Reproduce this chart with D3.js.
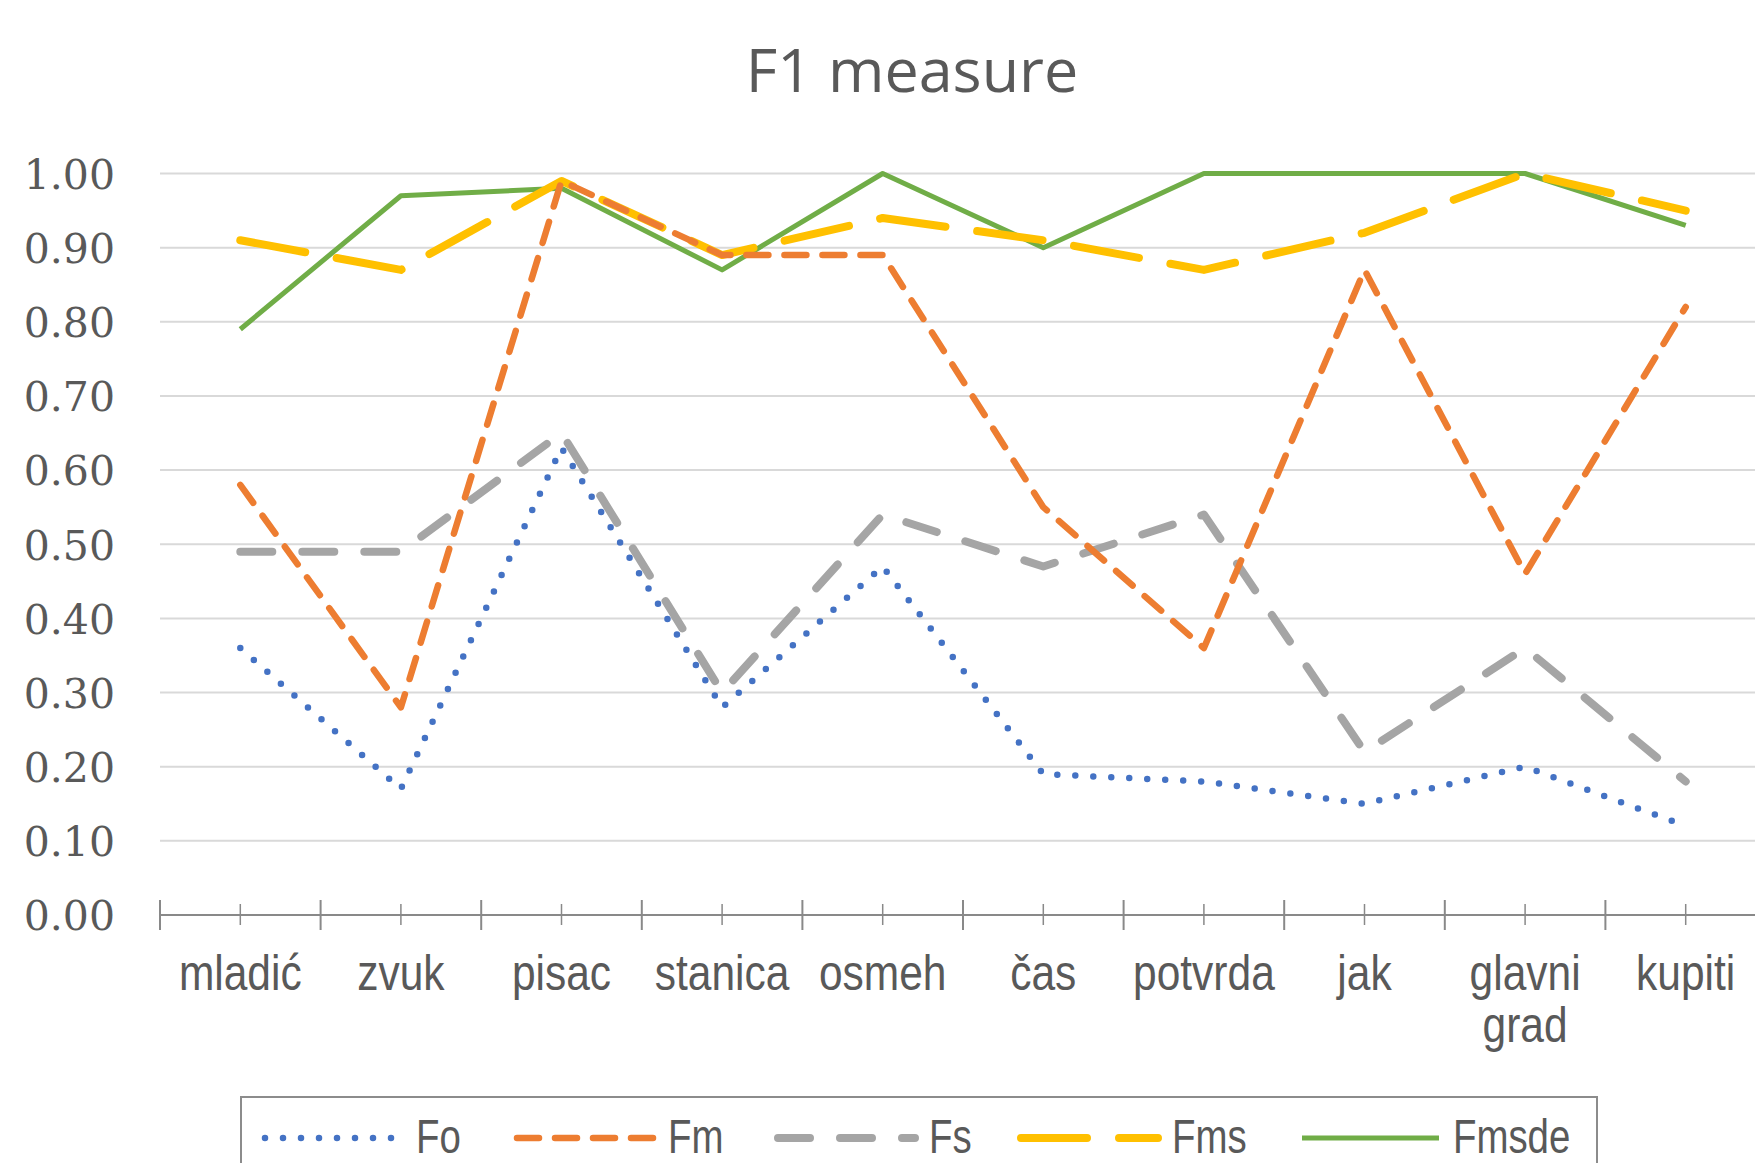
<!DOCTYPE html>
<html>
<head>
<meta charset="utf-8">
<script src="https://cdn.jsdelivr.net/npm/d3@7"></script>
<style>
  html, body { margin: 0; padding: 0; background: #ffffff; overflow: hidden; }
  svg { display: block; }
</style>
</head>
<body>
<svg id="chart" width="1755" height="1163"></svg>
<script>
// ---- data ----
const title = "F1 measure";
const categories = ["mladić", "zvuk", "pisac", "stanica", "osmeh", "čas", "potvrda", "jak", "glavni grad", "kupiti"];
const Fo    = [0.36, 0.17, 0.63, 0.28, 0.47, 0.19, 0.18, 0.15, 0.20, 0.12];
const Fm    = [0.58, 0.28, 0.99, 0.89, 0.89, 0.55, 0.36, 0.87, 0.46, 0.82];
const Fs    = [0.49, 0.49, 0.65, 0.30, 0.54, 0.47, 0.54, 0.22, 0.36, 0.18];
const Fms   = [0.91, 0.87, 0.99, 0.89, 0.94, 0.91, 0.87, 0.92, 1.00, 0.95];
const Fmsde = [0.79, 0.97, 0.98, 0.87, 1.00, 0.90, 1.00, 1.00, 1.00, 0.93];
const seriesNames = ["Fo", "Fm", "Fs", "Fms", "Fmsde"];
const yTicks = [0, 0.1, 0.2, 0.3, 0.4, 0.5, 0.6, 0.7, 0.8, 0.9, 1.0];

// ---- styles ----
const styles = {
  Fo:    { color: "#4472C4", width: 6.5, dash: "0 18",  cap: "round" },
  Fm:    { color: "#ED7D31", width: 6.5, dash: "22 16", cap: "round" },
  Fs:    { color: "#A5A5A5", width: 8,   dash: "32 30", cap: "round" },
  Fms:   { color: "#FFC000", width: 8,   dash: "66 32", cap: "round" },
  Fmsde: { color: "#70AD47", width: 5,   dash: null,    cap: "butt" }
};
const valuesByName = { Fo, Fm, Fs, Fms, Fmsde };
const drawOrder = ["Fo", "Fmsde", "Fs", "Fms", "Fm"];

const svg = d3.select("#chart");
const textColor = "#595959";
const sansFont = "'Liberation Sans', Arial, sans-serif";

const x = d3.scaleBand().domain(categories).range([160, 160 + 10 * 160.6]).padding(0);
const y = d3.scaleLinear().domain([0, 1]).range([915, 173.5]);
const cx = c => x(c) + x.bandwidth() / 2;

// title
svg.append("text")
  .attr("x", 912).attr("y", 92)
  .attr("text-anchor", "middle")
  .attr("font-family", "'Open Sans', 'Noto Sans', sans-serif")
  .attr("font-size", 61)
  .attr("fill", textColor)
  .text(title);

// gridlines
svg.append("g").selectAll("line")
  .data(yTicks.filter(d => d > 0))
  .join("line")
  .attr("x1", 160).attr("x2", 1755)
  .attr("y1", d => y(d)).attr("y2", d => y(d))
  .attr("stroke", "#d9d9d9").attr("stroke-width", 2);

// y axis labels
const yAxis = d3.axisLeft(y).tickValues(yTicks).tickFormat(d3.format(".2f")).tickSize(0).tickPadding(0);
const gy = svg.append("g").attr("transform", "translate(115,0)").call(yAxis);
gy.select(".domain").remove();
gy.selectAll("text")
  .attr("font-family", "'DejaVu Serif', serif")
  .attr("font-size", 41)
  .attr("fill", textColor)
  .attr("dy", "0.36em");

// x axis line
svg.append("line")
  .attr("x1", 160).attr("x2", 1755)
  .attr("y1", y(0)).attr("y2", y(0))
  .attr("stroke", "#898989").attr("stroke-width", 2);

// boundary ticks
const bounds = categories.map(c => x(c)).concat([x(categories[categories.length - 1]) + x.bandwidth()]);
svg.append("g").selectAll("line").data(bounds).join("line")
  .attr("x1", d => d).attr("x2", d => d)
  .attr("y1", y(0) - 15).attr("y2", y(0) + 15)
  .attr("stroke", "#898989").attr("stroke-width", 2);
// centre ticks
svg.append("g").selectAll("line").data(categories).join("line")
  .attr("x1", d => cx(d)).attr("x2", d => cx(d))
  .attr("y1", y(0) - 11).attr("y2", y(0) + 10)
  .attr("stroke", "#898989").attr("stroke-width", 1.5);

// category labels (condensed)
const lbl = svg.append("g").selectAll("text").data(categories).join("text")
  .attr("transform", d => `translate(${cx(d)},990) scale(0.85,1)`)
  .attr("text-anchor", "middle")
  .attr("font-family", sansFont)
  .attr("font-size", 50)
  .attr("fill", textColor);
lbl.each(function(d) {
  const words = d.split(" ");
  const t = d3.select(this);
  words.forEach((w, i) => {
    t.append("tspan").attr("x", 0).attr("dy", i === 0 ? 0 : 52).text(w);
  });
});

// series lines
const line = d3.line().x((d, i) => cx(categories[i])).y(d => y(d));
svg.append("g").selectAll("path").data(drawOrder).join("path")
  .attr("d", n => line(valuesByName[n]))
  .attr("fill", "none")
  .attr("stroke", n => styles[n].color)
  .attr("stroke-width", n => styles[n].width)
  .attr("stroke-dasharray", n => styles[n].dash)
  .attr("stroke-linecap", n => styles[n].cap)
  .attr("stroke-linejoin", "round");

// legend
svg.append("rect")
  .attr("x", 241).attr("y", 1097)
  .attr("width", 1356).attr("height", 120)
  .attr("fill", "none").attr("stroke", "#8c8c8c").attr("stroke-width", 2);
const legendStarts = [265, 517, 778, 1021, 1302];
const lg = svg.append("g").selectAll("g").data(seriesNames).join("g")
  .attr("transform", (d, i) => `translate(${legendStarts[i]},1138)`);
lg.append("line")
  .attr("x1", 0).attr("x2", 137).attr("y1", 0).attr("y2", 0)
  .attr("stroke", n => styles[n].color)
  .attr("stroke-width", n => styles[n].width)
  .attr("stroke-dasharray", n => styles[n].dash)
  .attr("stroke-linecap", n => styles[n].cap);
lg.append("text")
  .attr("transform", "translate(151,15) scale(0.8,1)")
  .attr("font-family", sansFont)
  .attr("font-size", 48)
  .attr("fill", textColor)
  .text(n => n);
</script>
</body>
</html>
